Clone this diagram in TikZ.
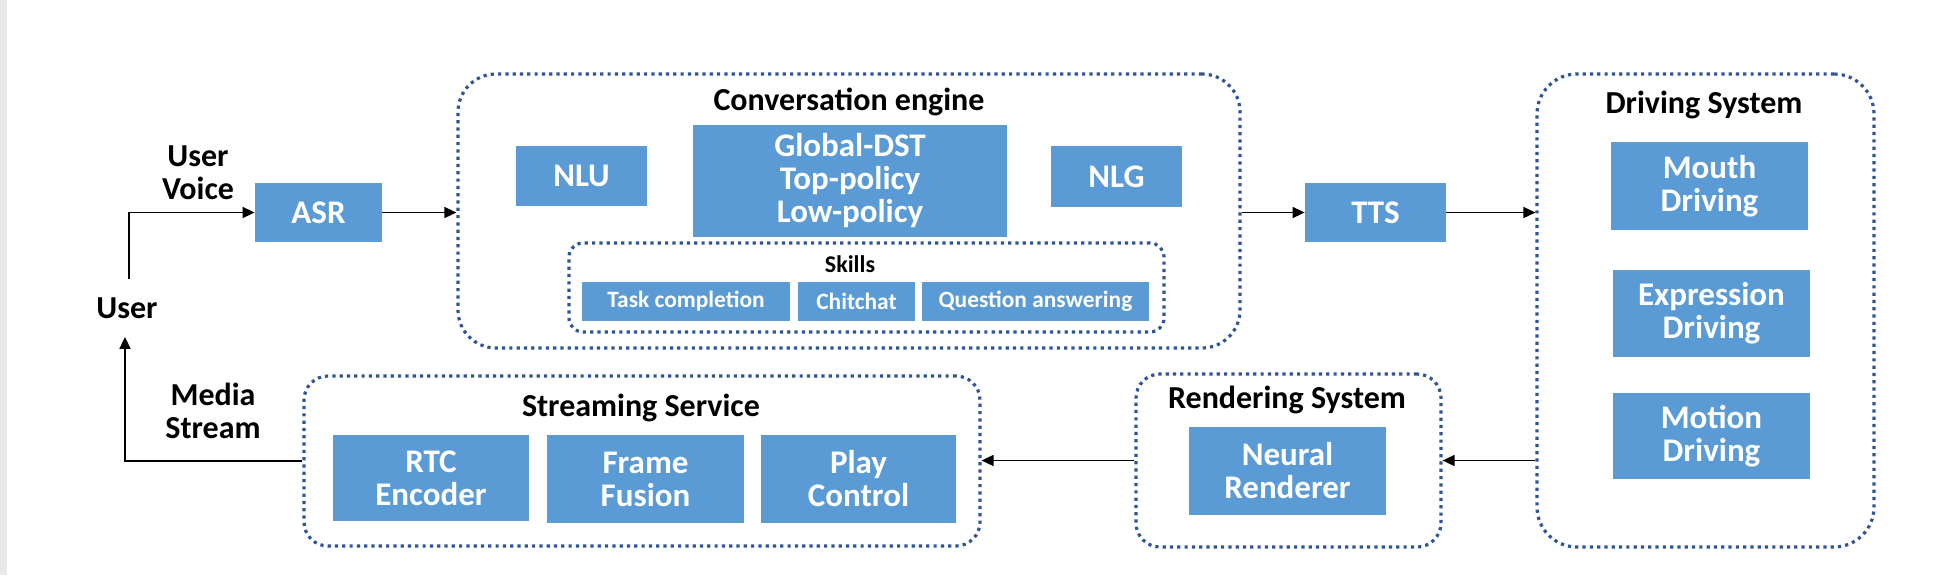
\documentclass[tikz,border=0pt]{standalone}
\usepackage{fontspec}
\setmainfont{Carlito}
\usetikzlibrary{arrows.meta}
\definecolor{boxblue}{HTML}{5B9BD5}
\definecolor{dotblue}{HTML}{2F5597}
\definecolor{stripgray}{HTML}{E8E8E8}
\begin{document}
\begin{tikzpicture}[x=0.5pt,y=-0.5pt,
  blk/.style={fill=boxblue, text=white, font=\bfseries\fontsize{16.5}{16.5}\selectfont, align=center, inner sep=0pt},
  smallblk/.style={fill=boxblue, text=white, font=\bfseries\fontsize{11.7}{12}\selectfont, inner sep=0pt, minimum height=19.5pt},
  group/.style={draw=dotblue, line width=1.6pt, dash pattern=on 1.6pt off 2.05pt, inner sep=0pt},
  ttl/.style={font=\bfseries\fontsize{16}{16.5}\selectfont, align=center, inner sep=0pt},
  arr/.style={-{Triangle[length=6pt,width=5.5pt]}, line width=0.8pt}]
\useasboundingbox (0,0) rectangle (1935,575);
\fill[white] (0,0) rectangle (1935,575);
\fill[stripgray] (0,0) rectangle (6.7,575);

% containers
\node[group, rounded corners=19pt, minimum width=391pt, minimum height=137pt] (conv) at (849,211) {};
\node[group, rounded corners=7pt, minimum width=297.5pt, minimum height=44.5pt] (skills) at (866.5,287.5) {};
\node[group, rounded corners=12pt, minimum width=338pt, minimum height=85pt] (stream) at (642,461) {};
\node[group, rounded corners=12pt, minimum width=152.5pt, minimum height=86.5pt] (rend) at (1288.5,460.5) {};
\node[group, rounded corners=20pt, minimum width=168.5pt, minimum height=236.5pt] (drive) at (1705.5,310.5) {};

% titles
\node[ttl] (convt) at (849,102) {Conversation engine};
\node[ttl, font=\bfseries\fontsize{12}{12}\selectfont] (skillst) at (850,264) {Skills};
\node[ttl] (drivet) at (1704,105) {Driving System};
\node[ttl] (rendt) at (1287,400) {Rendering System};
\node[ttl] (streamt) at (641,408) {Streaming Service};

% labels
\node[ttl] (uv) at (198,173) {User\\Voice};
\node[ttl] (ms) at (213,411) {Media\\Stream};
\node[ttl, minimum height=28.5pt] (user) at (127,308) {User};

% blocks
\node[blk, minimum width=63.5pt, minimum height=29.5pt] (asr) at (318.5,212.5) {ASR};
\node[blk, minimum width=65.5pt, minimum height=30pt] (nlu) at (581.5,176) {NLU};
\node[blk, minimum width=157pt, minimum height=56pt] (dst) at (850,181) {Global-DST\\Top-policy\\Low-policy};
\node[blk, minimum width=65.5pt, minimum height=30.5pt] (nlg) at (1116.5,176.5) {NLG};
\node[smallblk, minimum width=104pt] (task) at (686,301.5) {Task completion};
\node[smallblk, minimum width=58.5pt] (chit) at (856.5,301.5) {Chitchat};
\node[smallblk, minimum width=113.5pt] (qa) at (1035.5,301.5) {Question answering};
\node[blk, minimum width=70.5pt, minimum height=29.5pt] (tts) at (1375.5,212.5) {TTS};
\node[blk, minimum width=98.5pt, minimum height=44pt] (mouth) at (1709.5,186) {Mouth\\Driving};
\node[blk, minimum width=98.5pt, minimum height=43.5pt] (expr) at (1711.5,313.5) {Expression\\Driving};
\node[blk, minimum width=98.5pt, minimum height=43pt] (motion) at (1711.5,436) {Motion\\Driving};
\node[blk, minimum width=98.5pt, minimum height=44pt] (neural) at (1287.5,471) {Neural\\Renderer};
\node[blk, minimum width=98pt, minimum height=43pt] (rtc) at (431,478) {RTC\\Encoder};
\node[blk, minimum width=98.5pt, minimum height=44pt] (frame) at (645.5,479) {Frame\\Fusion};
\node[blk, minimum width=97.5pt, minimum height=44pt] (play) at (858.5,479) {Play\\Control};

% connectors
\draw[arr] ([xshift=1pt]user.north) |- (asr.west);
\draw[arr] (asr.east) -- (asr.east -| conv.west);
\draw[arr] (conv.east |- tts.west) -- (tts.west);
\draw[arr] (tts.east) -- (tts.east -| drive.west);
\draw[arr] (rend.east -| drive.west) -- (rend.east);
\draw[arr] (rend.west) -- (rend.west -| stream.east);
\draw[arr] (stream.west) -| ([xshift=-1pt]user.south);
\end{tikzpicture}
\end{document}
